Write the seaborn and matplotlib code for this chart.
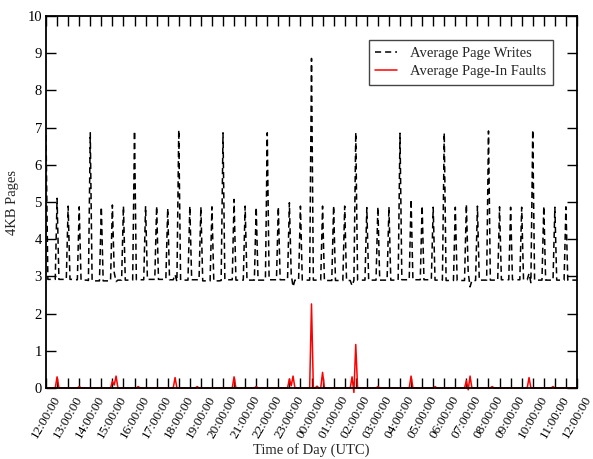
import numpy as np
import pandas as pd
import matplotlib
matplotlib.use("Agg")
import matplotlib.pyplot as plt
import matplotlib.transforms as mtransforms
import seaborn as sns

# Monitoring samples are 5 minutes apart, starting at 12:00:00 UTC
SAMPLE_MIN = 5

# Average page writes (4KB pages): one row per hour, 12 samples per row (:00, :05, ... :55)
page_writes_by_hour = [
    [6.80, 2.92, 2.92, 2.92, 2.92, 2.92, 5.10, 2.92, 2.92, 2.92, 2.92, 2.92],  # 12:00
    [4.89, 2.92, 2.92, 2.91, 2.91, 2.91, 4.87, 2.90, 2.90, 2.90, 2.90, 2.89],  # 13:00
    [6.86, 2.88, 2.88, 2.88, 2.88, 2.88, 4.87, 2.88, 2.88, 2.88, 2.88, 2.88],  # 14:00
    [4.92, 3.10, 2.86, 2.90, 2.90, 2.90, 4.89, 2.90, 2.90, 2.90, 2.90, 2.90],  # 15:00
    [6.91, 2.91, 2.91, 2.91, 2.91, 2.91, 4.89, 2.92, 2.92, 2.92, 2.92, 2.92],  # 16:00
    [4.89, 2.92, 2.92, 2.92, 2.92, 2.92, 4.83, 2.91, 2.91, 2.91, 3.05, 2.86],  # 17:00
    [6.94, 2.90, 2.90, 2.90, 2.90, 2.90, 4.89, 2.91, 2.91, 2.91, 2.91, 2.91],  # 18:00
    [4.87, 2.88, 2.88, 2.88, 2.88, 2.88, 4.87, 2.88, 2.88, 2.88, 2.88, 2.89],  # 19:00
    [6.86, 2.91, 2.91, 2.91, 2.91, 2.91, 5.07, 2.90, 2.90, 2.90, 2.90, 2.90],  # 20:00
    [4.89, 2.90, 2.90, 2.90, 2.90, 2.90, 4.86, 2.90, 2.90, 2.90, 2.90, 2.90],  # 21:00
    [6.86, 2.91, 2.91, 2.91, 2.91, 2.91, 4.87, 2.91, 2.91, 2.91, 2.91, 2.91],  # 22:00
    [4.98, 3.05, 2.72, 2.90, 2.90, 2.90, 4.89, 2.90, 2.90, 2.90, 2.90, 2.90],  # 23:00
    [8.86, 2.90, 2.90, 2.90, 2.90, 2.90, 4.89, 2.89, 2.89, 2.89, 2.89, 2.89],  # 00:00
    [4.90, 2.89, 2.89, 2.89, 2.89, 2.89, 4.89, 2.89, 2.89, 2.89, 2.75, 2.89],  # 01:00
    [6.87, 2.90, 2.90, 2.90, 2.90, 2.90, 4.85, 2.90, 2.90, 2.90, 2.90, 2.90],  # 02:00
    [4.87, 2.90, 2.90, 2.90, 2.90, 2.90, 4.87, 2.90, 2.90, 2.90, 2.90, 2.90],  # 03:00
    [6.85, 2.91, 2.91, 2.91, 2.91, 2.91, 5.07, 2.91, 2.91, 2.91, 2.91, 2.91],  # 04:00
    [4.90, 2.91, 2.91, 2.91, 2.91, 2.91, 4.86, 2.90, 2.90, 2.90, 2.90, 2.90],  # 05:00
    [6.86, 2.89, 2.89, 2.89, 2.89, 2.89, 4.86, 2.89, 2.89, 2.89, 2.89, 2.89],  # 06:00
    [4.94, 3.10, 2.72, 2.89, 2.89, 2.89, 4.89, 2.90, 2.90, 2.90, 2.90, 2.90],  # 07:00
    [6.91, 2.90, 2.90, 2.90, 2.90, 2.90, 4.87, 2.91, 2.91, 2.91, 2.91, 2.91],  # 08:00
    [4.86, 2.91, 2.91, 2.91, 2.91, 2.91, 4.86, 2.91, 2.91, 2.91, 3.08, 2.83],  # 09:00
    [6.94, 2.90, 2.90, 2.90, 2.90, 2.90, 4.89, 2.90, 2.90, 2.90, 2.90, 2.90],  # 10:00
    [4.86, 2.90, 2.90, 2.90, 2.90, 2.90, 4.87, 2.90, 2.90, 2.90, 2.90, 2.90],  # 11:00
]
page_writes_end = 2.90  # 12:00 next day

# Average page-in faults (4KB pages), same sampling layout
page_faults_by_hour = [
    [0.00, 0.00, 0.00, 0.00, 0.00, 0.00, 0.30, 0.00, 0.00, 0.00, 0.00, 0.00],  # 12:00
    [0.00, 0.00, 0.00, 0.00, 0.00, 0.00, 0.04, 0.00, 0.00, 0.00, 0.00, 0.00],  # 13:00
    [0.00, 0.00, 0.00, 0.00, 0.00, 0.00, 0.00, 0.00, 0.00, 0.00, 0.00, 0.00],  # 14:00
    [0.18, 0.08, 0.32, 0.00, 0.00, 0.00, 0.00, 0.00, 0.00, 0.00, 0.00, 0.00],  # 15:00
    [0.00, 0.00, 0.04, 0.00, 0.00, 0.00, 0.00, 0.00, 0.00, 0.00, 0.00, 0.00],  # 16:00
    [0.00, 0.00, 0.00, 0.00, 0.00, 0.00, 0.00, 0.00, 0.00, 0.00, 0.28, 0.00],  # 17:00
    [0.00, 0.00, 0.00, 0.00, 0.00, 0.00, 0.00, 0.00, 0.00, 0.00, 0.04, 0.00],  # 18:00
    [0.00, 0.00, 0.00, 0.00, 0.00, 0.00, 0.00, 0.00, 0.00, 0.00, 0.00, 0.00],  # 19:00
    [0.00, 0.00, 0.00, 0.00, 0.00, 0.00, 0.30, 0.00, 0.00, 0.00, 0.00, 0.00],  # 20:00
    [0.00, 0.00, 0.00, 0.00, 0.00, 0.00, 0.04, 0.00, 0.00, 0.00, 0.00, 0.00],  # 21:00
    [0.00, 0.00, 0.00, 0.00, 0.00, 0.00, 0.00, 0.00, 0.00, 0.00, 0.00, 0.00],  # 22:00
    [0.24, 0.06, 0.32, 0.00, 0.00, 0.00, 0.00, 0.00, 0.00, 0.00, 0.00, 0.00],  # 23:00
    [2.26, 0.00, 0.00, 0.05, 0.00, 0.00, 0.42, 0.00, 0.00, 0.00, 0.00, 0.00],  # 00:00
    [0.00, 0.00, 0.00, 0.00, 0.00, 0.00, 0.00, 0.00, 0.00, 0.00, 0.30, -0.12],  # 01:00
    [1.17, 0.00, 0.00, 0.00, 0.00, 0.00, 0.00, 0.00, 0.00, 0.00, 0.00, 0.00],  # 02:00
    [0.04, 0.00, 0.00, 0.00, 0.00, 0.00, 0.00, 0.00, 0.00, 0.00, 0.00, 0.00],  # 03:00
    [0.00, 0.00, 0.00, 0.00, 0.00, 0.00, 0.32, 0.00, 0.00, 0.00, 0.00, 0.00],  # 04:00
    [0.00, 0.00, 0.00, 0.00, 0.00, 0.00, 0.00, 0.04, 0.00, 0.00, 0.00, 0.00],  # 05:00
    [0.00, 0.00, 0.00, 0.00, 0.00, 0.00, 0.00, 0.00, 0.00, 0.00, 0.00, 0.00],  # 06:00
    [0.20, -0.05, 0.32, 0.00, 0.00, 0.00, 0.00, 0.00, 0.00, 0.00, 0.00, 0.00],  # 07:00
    [0.00, 0.00, 0.04, 0.00, 0.00, 0.00, 0.00, 0.00, 0.00, 0.00, 0.00, 0.00],  # 08:00
    [0.00, 0.00, 0.00, 0.00, 0.00, 0.00, 0.00, 0.00, 0.00, 0.00, 0.28, 0.00],  # 09:00
    [0.00, 0.00, 0.00, 0.00, 0.00, 0.00, 0.00, 0.00, 0.00, 0.00, 0.00, 0.04],  # 10:00
    [0.00, 0.00, 0.00, 0.00, 0.00, 0.00, 0.00, 0.00, 0.00, 0.00, 0.00, 0.00],  # 11:00
]
page_faults_end = 0.00

hour_labels = [
    "12:00:00", "13:00:00", "14:00:00", "15:00:00", "16:00:00", "17:00:00",
    "18:00:00", "19:00:00", "20:00:00", "21:00:00", "22:00:00", "23:00:00",
    "00:00:00", "01:00:00", "02:00:00", "03:00:00", "04:00:00", "05:00:00",
    "06:00:00", "07:00:00", "08:00:00", "09:00:00", "10:00:00", "11:00:00",
    "12:00:00",
]
y_ticks = [0, 1, 2, 3, 4, 5, 6, 7, 8, 9, 10]

writes = np.concatenate([np.ravel(page_writes_by_hour), [page_writes_end]])
faults = np.concatenate([np.ravel(page_faults_by_hour), [page_faults_end]])
df = pd.DataFrame({
    "minute": np.arange(len(writes)) * SAMPLE_MIN,
    "writes": writes,
    "faults": faults,
})

sns.set_style("ticks")
plt.rcParams["font.family"] = ["Liberation Serif", "DejaVu Serif"]
plt.rcParams["font.size"] = 10.5

fig = plt.figure(figsize=(5.93, 4.59), dpi=100)
ax = fig.add_axes([0.0776, 0.1547, 0.8954, 0.8104])

sns.lineplot(data=df, x="minute", y="writes", ax=ax, color="black",
             linewidth=1.1, linestyle=(0, (4.0, 2.6)), errorbar=None,
             label="Average Page Writes")
sns.lineplot(data=df, x="minute", y="faults", ax=ax, color="#ff0000",
             linewidth=1.1, errorbar=None, clip_on=False,
             label="Average Page-In Faults")

ax.set_xlim(0, 24 * 60)
ax.set_ylim(0, 10)
ax.set_xticks(np.arange(len(hour_labels)) * 60)
ax.set_xticks(np.arange(len(hour_labels) - 1) * 60 + 30, minor=True)
ax.set_xticklabels(hour_labels, rotation=60, ha="center", va="top",
                   fontsize=9.5)
ax.set_yticks(y_ticks)
ax.set_yticklabels([str(v) for v in y_ticks], fontsize=10.5)

# shift the slanted hour labels slightly left of their ticks
shift = mtransforms.ScaledTranslation(-3 / 100, 0, fig.dpi_scale_trans)
for lab in ax.get_xticklabels():
    lab.set_transform(lab.get_transform() + shift)

ax.tick_params(which="both", direction="in", length=7.2, width=1.0,
               top=True, right=True, colors="black")
ax.tick_params(axis="x", pad=4)
ax.tick_params(axis="y", pad=3)
for sp in ax.spines.values():
    sp.set_linewidth(1.3)
    sp.set_color("black")

ax.set_xlabel("Time of Day (UTC)", fontsize=10.5, labelpad=2)
ax.set_ylabel("4KB Pages", fontsize=10.5, labelpad=6)

leg = ax.legend(loc="upper right", bbox_to_anchor=(0.955, 0.935),
                frameon=True, fancybox=False, framealpha=1,
                edgecolor="#444444", fontsize=10.5, handlelength=1.5,
                handletextpad=0.9, labelspacing=0.35, borderpad=0.45,
                borderaxespad=0)
leg.get_frame().set_linewidth(1.0)

fig.savefig("out.png", dpi=100)
